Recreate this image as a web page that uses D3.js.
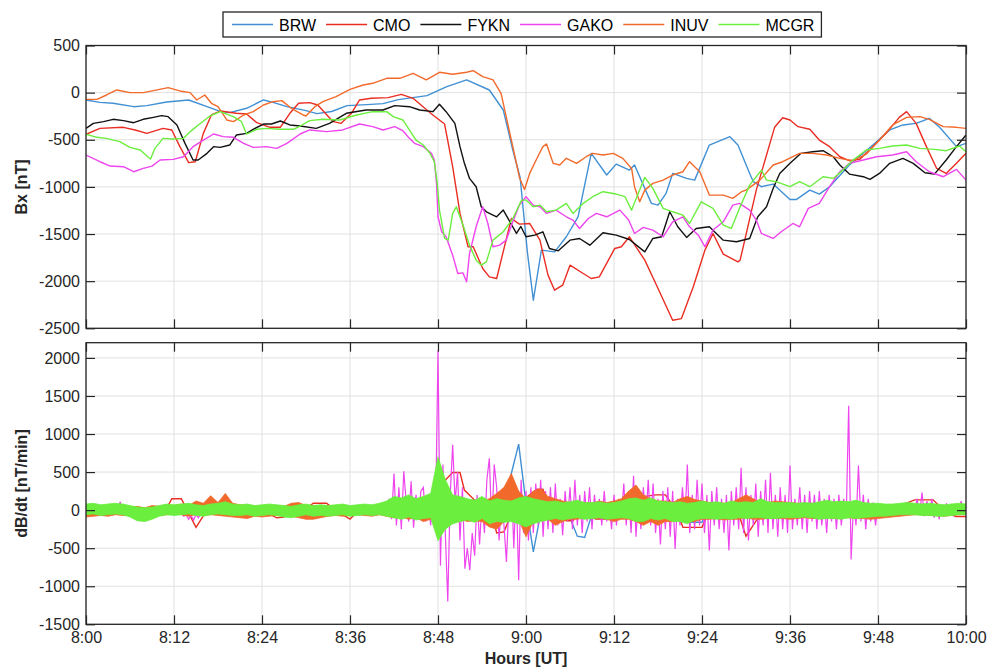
<!DOCTYPE html>
<html>
<head>
<meta charset="utf-8">
<script src="https://cdn.jsdelivr.net/npm/d3@7"></script>
<style>
body { margin: 0; background: #fff; }
text { font-family: "Liberation Sans", Arial, Helvetica, sans-serif; }
</style>
</head>
<body>
<svg id="chart" width="994" height="669"></svg>
<script>
// stations and colours, in plotting order
const stations = ['BRW', 'CMO', 'FYKN', 'GAKO', 'INUV', 'MCGR']
const colors = ['#4190d4', '#ea2d22', '#111111', '#ee45ee', '#f26a2b', '#6bee3e']

const timeTicks = [0, 12, 24, 36, 48, 60, 72, 84, 96, 108, 120]
const timeLabels = ['8:00', '8:12', '8:24', '8:36', '8:48', '9:00', '9:12', '9:24', '9:36', '9:48', '10:00']
const bxTicks = [-2500, -2000, -1500, -1000, -500, 0, 500]
const dbTicks = [-1500, -1000, -500, 0, 500, 1000, 1500, 2000]

// Bx [nT], [minutes after 8:00, value]
const bxBRW = [[0,-78],[1.9,-103],[3.7,-113],[6.5,-149],[8.3,-138],[11,-99],[14,-78],[16.5,-149],[18.3,-198],[19.6,-212],[21.9,-166],[24.2,-78],[25.5,-103],[27.4,-149],[30,-191],[31.5,-223],[33.5,-200],[35.6,-138],[38.3,-127],[40.5,-117],[42.6,-74],[46.5,-32],[49.2,64],[51.9,135],[55,28],[56.9,-184],[58.2,-609],[59.2,-900],[60.2,-1700],[61,-2202],[62.1,-1671],[63.9,-1689],[65.5,-1529],[67.1,-1317],[68.9,-644],[71,-874],[72.3,-758],[74.1,-822],[74.8,-768],[77.1,-1175],[78,-1193],[79.1,-1069],[80,-857],[81.9,-910],[83,-928],[85,-556],[87.8,-467],[88.9,-556],[90.5,-857],[91,-945],[92.1,-998],[93.7,-970],[96,-1133],[96.9,-1133],[98.7,-1034],[100,-1076],[101.4,-998],[104.1,-768],[107.3,-556],[109.6,-396],[111.4,-343],[113.2,-326],[115,-273],[116.4,-368],[118.7,-573],[120,-538]]
const bxCMO = [[0,-442],[1.9,-379],[5.1,-368],[6.7,-396],[8.3,-432],[10.5,-379],[11.7,-396],[12.8,-573],[14,-743],[14.9,-733],[16,-432],[17.1,-237],[18.3,-195],[20.5,-219],[21.9,-227],[23.3,-319],[25.1,-368],[26.5,-368],[27.8,-219],[29,-113],[30.5,-106],[31.6,-131],[33.7,-308],[34.8,-326],[36.2,-219],[37.3,-78],[38.9,-60],[41.2,-53],[43,-18],[44.6,-60],[46.2,-166],[47.3,-237],[48.9,-333],[50,-786],[51,-1281],[52.1,-1635],[52.8,-1635],[54.1,-1866],[55,-1954],[56,-1972],[58,-1335],[59.1,-1395],[60.5,-1388],[61.9,-1565],[63,-1936],[63.9,-2096],[65,-2043],[66,-1830],[67.8,-1919],[68.9,-1972],[70,-1954],[72.1,-1653],[73,-1635],[74.1,-1529],[76.2,-1777],[77.8,-2043],[80,-2414],[81.2,-2397],[82.8,-2061],[84.4,-1671],[85.5,-1494],[86.9,-1713],[88.9,-1795],[89.2,-1777],[91.4,-1034],[93.9,-368],[95,-266],[96,-290],[97.1,-361],[98.7,-389],[100,-503],[101.4,-573],[102.8,-680],[104.1,-722],[105.5,-708],[107.3,-573],[109.1,-432],[110.9,-262],[111.9,-202],[113.2,-326],[114.6,-573],[116,-804],[117.3,-857],[118.7,-750],[120,-644]]
const bxFYKN = [[0,-379],[1,-326],[2.4,-308],[3.7,-283],[5.1,-297],[6.5,-319],[7.8,-283],[9.2,-262],[10.3,-244],[11.2,-255],[12.4,-343],[13.5,-538],[14.6,-715],[15.3,-715],[16.5,-644],[17.4,-573],[18.3,-581],[19.6,-556],[20.5,-450],[21.9,-432],[22.8,-389],[24.2,-333],[25.3,-333],[26.5,-301],[27.8,-343],[29.2,-354],[31.4,-379],[33.2,-326],[35.5,-219],[38.2,-184],[40.5,-184],[42.1,-138],[44.1,-149],[45.5,-184],[47.3,-202],[48.2,-124],[49.1,-202],[50.3,-326],[51,-573],[51.6,-750],[52.3,-910],[53.2,-998],[53.9,-1211],[54.6,-1264],[56,-1317],[56.9,-1246],[57.8,-1370],[58.7,-1494],[59.3,-1420],[60,-1529],[61.2,-1512],[62.3,-1476],[63.2,-1653],[64.4,-1678],[66,-1565],[67.3,-1547],[68.7,-1618],[70.5,-1487],[72.3,-1512],[74.1,-1558],[76.2,-1689],[77.3,-1547],[78.5,-1529],[79.6,-1264],[80.7,-1423],[81.9,-1536],[83.2,-1441],[85,-1423],[86.9,-1565],[88.7,-1582],[90.5,-1547],[91.6,-1317],[92.8,-1211],[93.7,-1016],[94.6,-857],[96,-750],[97.5,-644],[99.1,-627],[100.5,-616],[101.9,-680],[102.8,-768],[104.1,-864],[106,-892],[106.9,-920],[108.2,-857],[109.6,-750],[111.4,-697],[112.8,-750],[114.4,-850],[115.7,-864],[117.3,-715],[118.7,-573],[120,-450]]
const bxGAKO = [[0,-662],[1.9,-733],[3.3,-779],[5.1,-786],[6.5,-839],[7.8,-804],[9,-779],[10.1,-715],[11.9,-708],[13.3,-680],[14.6,-573],[16,-503],[17.4,-439],[18.7,-467],[20.1,-474],[21.5,-538],[22.8,-581],[24.6,-573],[26,-591],[27.4,-538],[29.2,-439],[30.5,-396],[32.8,-414],[35,-396],[37.3,-333],[39.1,-361],[40.5,-396],[42.1,-361],[43.2,-404],[44.1,-485],[44.8,-538],[46,-573],[47.1,-644],[47.5,-715],[47.8,-963],[48,-1317],[48.5,-1476],[49.1,-1529],[50,-1724],[50.7,-1919],[51.4,-1912],[51.9,-2007],[52.3,-1706],[53.2,-1423],[54.1,-1211],[54.8,-1388],[55.5,-1635],[56.4,-1618],[57.3,-1565],[58.2,-1370],[59.1,-1193],[60,-1104],[61,-1193],[61.9,-1211],[62.8,-1281],[64.1,-1246],[65.5,-1317],[66.4,-1352],[67.3,-1441],[68.5,-1335],[69.6,-1281],[71,-1317],[72.8,-1246],[74,-1352],[74.8,-1494],[76,-1430],[77.3,-1458],[78.7,-1529],[80,-1370],[81.4,-1317],[82.3,-1423],[83.5,-1512],[84.4,-1635],[85.5,-1458],[86.9,-1370],[88.2,-1193],[89.1,-1175],[90.5,-1246],[91.4,-1352],[92.1,-1494],[93.7,-1547],[94.8,-1476],[96.4,-1388],[97.3,-1423],[98.5,-1228],[100,-1175],[101.4,-998],[102.8,-839],[104.1,-750],[106,-715],[107.8,-680],[110,-662],[111.9,-627],[113.2,-733],[115,-839],[116.9,-892],[118.7,-814],[120,-927]]
const bxINUV = [[0,-71],[1.5,-71],[2.8,-25],[4.2,28],[6,0],[7.8,0],[9.2,21],[11.2,53],[12.8,18],[14.2,0],[15.1,-78],[16.2,-25],[17.1,-113],[18,-149],[19.2,-290],[20.1,-308],[21.5,-237],[22.8,-202],[24.2,-131],[25.5,-96],[26.7,-85],[28,-166],[29.6,-237],[30,-248],[31.2,-149],[32.3,-96],[34.1,-42],[36,35],[37.8,81],[39.1,99],[41,152],[42.8,152],[44.6,205],[46.4,135],[48.2,216],[50,195],[51.9,216],[52.8,234],[54.1,170],[55.5,135],[56.6,-7],[57.5,-326],[58.5,-680],[59.1,-900],[59.8,-1027],[60.5,-857],[61.6,-680],[62.3,-573],[62.8,-545],[63.7,-750],[64.6,-768],[65.5,-697],[66.9,-750],[68.2,-680],[69.1,-644],[70.5,-662],[71.9,-644],[73.2,-697],[74.4,-804],[74.8,-998],[75.5,-1158],[76.2,-1034],[77.3,-963],[78.7,-928],[80,-874],[81.4,-839],[82.3,-733],[83.7,-839],[85,-1087],[86.9,-1087],[88.2,-1122],[89.4,-1051],[90,-1034],[91.9,-928],[93.7,-768],[95,-733],[97.3,-644],[99.1,-644],[101,-662],[102.8,-697],[104.6,-722],[106.4,-651],[108.2,-503],[110,-343],[111.9,-262],[113.7,-255],[115,-283],[116.9,-361],[118.7,-368],[120,-379]]
const bxMCGR = [[0,-442],[1.5,-474],[2.8,-485],[4.6,-520],[6,-581],[7.4,-609],[8.3,-673],[8.8,-704],[9.4,-591],[10.5,-485],[11.9,-492],[13.3,-485],[14.2,-414],[15.5,-333],[16.9,-248],[18.3,-202],[20.1,-255],[21.2,-308],[21.9,-439],[23.3,-389],[24.6,-379],[26.5,-389],[28.3,-389],[29.2,-354],[30.5,-297],[32.3,-283],[34.6,-290],[36.9,-237],[39.1,-202],[41,-202],[41.9,-255],[43.2,-290],[44.1,-396],[45,-503],[46,-556],[46.9,-644],[47.5,-733],[47.9,-963],[48.2,-1246],[48.9,-1547],[49.4,-1565],[50,-1281],[50.5,-1211],[51.4,-1405],[52.3,-1618],[53.2,-1777],[53.9,-1830],[54.6,-1795],[55.5,-1565],[56.9,-1476],[58.2,-1335],[59.4,-1140],[60,-1140],[61,-1211],[61.9,-1193],[62.8,-1264],[64.1,-1246],[65.5,-1175],[66.4,-1281],[67.8,-1175],[69.1,-1104],[70.5,-1051],[72.3,-1076],[73.5,-1104],[74.4,-1246],[75.3,-1069],[76.2,-899],[77.3,-1016],[78.7,-1228],[80,-1264],[81.4,-1299],[82.3,-1388],[83.9,-1158],[85.5,-1228],[86.9,-1405],[88,-1441],[89.1,-1228],[90.5,-981],[92.1,-822],[92.8,-928],[94.1,-945],[96,-998],[97.3,-945],[98.7,-998],[100.5,-892],[101.9,-910],[103.2,-822],[104.6,-715],[106.4,-609],[108.2,-591],[110,-566],[111.9,-556],[113.7,-591],[115.7,-602],[117.3,-616],[119.1,-566],[120,-627]]

// dB/dt [nT/min], one-minute stations: [minutes, value]
const dbBRW = [[0,10],[5,-10],[10,15],[15,-20],[20,10],[25,-15],[30,10],[35,5],[40,15],[45,20],[50,30],[52,10],[54,-80],[56,-200],[57,100],[58,482],[59,868],[60,88],[61,-548],[62,-44],[63,150],[64,80],[65,100],[66,-100],[67,-343],[68,-360],[69,-50],[70,100],[72,-50],[74,80],[75,150],[75.7,230],[76.5,80],[78,-52],[80,-100],[82,-160],[84,-160],[85,30],[87,-20],[89,80],[91,-60],[93,-80],[95,20],[97,-40],[100,30],[105,40],[110,30],[115,20],[120,-30]]
const dbCMO = [[0,0],[3,10],[6,-10],[9,5],[11,20],[11.7,150],[13,150],[15,-226],[16.5,0],[19,10],[22,-10],[24,0],[26,-100],[27,-90],[28,0],[30,20],[31,90],[32.8,90],[34,0],[36,-117],[37,-20],[40,10],[44,0],[46,20],[48,-30],[49,395],[50,495],[51,495],[51.6,263],[53,131],[54.5,90],[55.5,-100],[56,-300],[57,-285],[58,-50],[59,80],[60.5,200],[61.5,274],[62.3,274],[63,100],[64.5,-52],[65.5,-139],[66.4,-139],[67.5,0],[69.5,-117],[70.9,-117],[72,10],[75,165],[77.7,200],[79,200],[80.5,0],[81.4,-226],[84,-226],[85,0],[87,60],[89,-50],[90,-343],[91.4,-139],[93,0],[96,50],[100,20],[105,10],[110,20],[113,135],[115.5,135],[117,0],[118.6,-83],[120,-83]]
const dbFYKN = [[0,0],[10,10],[12,-20],[14,-40],[16,20],[20,10],[30,-10],[40,10],[45,-20],[48,-50],[50,-80],[52,-100],[54,-30],[56,-20],[58,-30],[60,0],[62,-20],[70,10],[80,-10],[90,60],[92,80],[94,40],[96,20],[100,-20],[105,0],[110,-10],[115,10],[118,40],[120,50]]

// GAKO dB/dt, every 20 s (three values per minute), 8:00 to 10:00
const dbGAKO = [
30,-40,20, -30,40,-20, 50,-30,20, -40,30,-50, 60,-20,110, -30,40,-60, 20,-50,30, -60,10,-80, -40,-90,-20, -70,10,-50,
30,-40,20, -30,50,-20, 40,-50,30, -40,-80,-60, -120,-70,-130, -60,-100,-30, 20,-40,30, -20,40,-30, 50,-20,30, -40,20,-50,
30,-30,40, -40,20,-30, 40,-30,20, -20,30,-40, 20,-30,40, -30,20,-40, 30,-50,-70, -40,20,-60, 30,-40,20, -30,40,-20,
20,-40,30, -30,20,-50, 40,-20,30, -40,30,-20, 30,-30,40, -20,30,-40, 40,-30,20, -30,40,-20, 30,-40,50, -20,40,-30,
50,-30,60, -80,150,-120, 480,-200,300, -250,510,100, -150,380,-230, 200,-100,250, 300,-150,150, -200,250,-100,
2100,-730,600, -300,-1200,200, 860,100,500, -400,300,-770, -500,-790,-300, -600,200,-450, 100,-300,400, 680,-200,600,
300,-400,200, -200,-680,100, 450,-500,300, -921,400,-300,
250,-400,300, -300,350,-200, 400,-350,250, -250,300,-300, 350,-200,150, -330,250,-150, 300,-250,400, -200,200,-300,
250,-150,300, -250,200,-100, 150,-200,250, -150,100,-250, 200,-200,150, -100,350,-200, 250,-300,450, -350,200,-250,
300,-150,400, -200,350,-300, 150,-450,250, -250,300,-350, 250,-510,150, -200,300,-150, 600,-300,200, -250,400,-200,
350,-300,200, -530,250,-200, 300,-250,150, -300,200,-530, 250,-200,300, -250,557,-300, 300,-400,200, -200,350,-350,
250,-200,400, -300,491,-250, 200,-350,300, -250,200,-300, 587,-250,150, -200,300,-250, 200,-300,250, -150,200,-250,
250,-200,150, -300,200,-150, 150,-250,200, -200,150,-100, 1370,-648,100, -200,587,-150, 200,-250,150, -150,100,-200,
80,-60,50, -50,40,-60, 60,-40,50, -50,70,-30, 80,-40,60, -30,150,-60, 230,-80,120, -60,150,-100, 80,-120,60, -80,90,-50,
60,-70,40, -40,120,-30, 80
]

// INUV and MCGR dB/dt noise envelopes, one value per minute 8:00..10:00
const dbINUVhi = [50,40,50,40,50,40,40,50,30,60,50, 40,60,80,60,120,90,190,100,220,90, 70,60,50,40,60,50,50,90,100,60, 60,50,60,50,60,50,40,60,50,60, 80,100,120,80,100,120,150, 180,150,120,100,120,100,120,150,220,300,480,250, 150,250,280,180,150,120,100,90,100,90, 120,100,120,150,250,330,200,150,120,120, 100,150,180,140,120,100,100,90,100,150, 200,150,90,100,120,110,100,90,80,90, 80,90,70,80,70,60,50,40,30,30, 40,50,60,70,80,60,50,40,50,40,50]
const dbINUVlo = [-90,-80,-70,-80,-60,-70,-70,-60,-80,-60,-70, -60,-50,-60,-80,-60,-70,-60,-70,-80,-90, -100,-110,-80,-90,-80,-70,-60,-80,-100,-120, -120,-100,-80,-70,-80,-70,-60,-70,-80,-60, -80,-100,-90,-120,-100,-150,-120, -150,-120,-140,-120,-150,-140,-150,-220,-250,-150,-80,-120, -350,-150,-120,-120,-200,-150,-120,-120,-100,-110, -100,-120,-150,-120,-120,-150,-200,-150,-200,-150, -150,-120,-150,-150,-120,-120,-110,-130,-120,-120, -100,-120,-120,-110,-110,-110,-120,-110,-100,-110, -110,-100,-110,-100,-100,-110,-110,-120,-110,-100, -90,-80,-70,-60,-60,-70,-70,-80,-70,-60,-50]
const dbMCGRhi = [80,90,70,80,90,80,60,40,30,40,60, 80,70,80,90,70,60,80,90,110,80, 70,80,60,70,80,70,60,50,70,80, 60,70,60,70,80,60,70,80,70,90, 120,180,160,200,150,180,220, 700,400,200,180,150,130,180,120,150,130,120,160, 180,150,130,110,120,100,110,130,100,100, 110,90,100,120,150,160,130,160,120,110, 100,110,90,100,120,100,110,90,120,100, 110,100,150,110,100,100,100,90,100,90, 110,130,110,120,110,130,100,90,90,80, 80,90,100,90,80,90,80,70,80,90,80]
const dbMCGRlo = [-60,-50,-70,-60,-50,-60,-90,-140,-150,-120,-80, -60,-70,-60,-50,-70,-80,-60,-50,-60,-70, -70,-60,-80,-70,-60,-70,-90,-100,-80,-60, -80,-70,-80,-70,-60,-80,-70,-60,-70,-60, -80,-100,-120,-90,-130,-110,-100, -400,-250,-180,-150,-130,-160,-110,-180,-150,-160,-150,-180, -220,-180,-150,-130,-110,-130,-110,-100,-120,-110, -100,-120,-110,-100,-110,-150,-150,-110,-130,-110, -150,-150,-180,-130,-110,-110,-120,-110,-120,-100, -110,-100,-100,-110,-110,-100,-100,-100,-90,-100, -120,-110,-110,-120,-100,-110,-100,-90,-80,-80, -70,-60,-60,-60,-70,-70,-80,-80,-70,-60,-60]


const svg = d3.select('#chart')
const axisColor = '#262626'
const left = 86, right = 966

let x = d3.scaleLinear().domain([0, 120]).range([left, right])
let yTop = d3.scaleLinear().domain([-2500, 500]).range([328.3, 45.5])
let yBot = d3.scaleLinear().domain([-1500, 2200]).range([624.3, 342.7])

const drawFrame = (y, ticks, id) => {
	let g = svg.append('g')
	let [y0, y1] = y.range()

	svg.append('clipPath').attr('id', id)
	.append('rect')
	.attr('x', left).attr('y', y1)
	.attr('width', right - left).attr('height', y0 - y1)

	// grid
	g.selectAll('.vgrid').data(timeTicks).enter().append('line')
	.attr('x1', d => x(d)).attr('x2', d => x(d))
	.attr('y1', y1).attr('y2', y0)
	.attr('stroke', '#e1e1e1').attr('stroke-width', 1)

	g.selectAll('.hgrid').data(ticks).enter().append('line')
	.attr('x1', left).attr('x2', right)
	.attr('y1', d => y(d)).attr('y2', d => y(d))
	.attr('stroke', '#e1e1e1').attr('stroke-width', 1)

	return g
}

const drawAxes = (y, ticks, showX) => {
	let [y0, y1] = y.range()
	let g = svg.append('g').attr('color', axisColor)

	g.append('g').attr('transform', `translate(${left},0)`)
	.call(d3.axisLeft(y).tickValues(ticks).tickSizeInner(-9).tickSizeOuter(0).tickPadding(6).tickFormat(d => String(d)))
	g.append('g').attr('transform', `translate(${right},0)`)
	.call(d3.axisRight(y).tickValues(ticks).tickSizeInner(-9).tickSizeOuter(0).tickFormat(''))
	g.append('g').attr('transform', `translate(0,${y0})`)
	.call(d3.axisBottom(x).tickValues(timeTicks).tickSizeInner(-9).tickSizeOuter(0).tickPadding(7)
		.tickFormat((d, i) => showX ? timeLabels[i] : ''))
	g.append('g').attr('transform', `translate(0,${y1})`)
	.call(d3.axisTop(x).tickValues(timeTicks).tickSizeInner(-9).tickSizeOuter(0).tickFormat(''))

	g.selectAll('.domain').remove()
	g.selectAll('.tick line').attr('stroke-width', 1.2)
	g.selectAll('.tick text')
	.style('font-size', '16px')
	.attr('fill', axisColor)

	g.append('rect')
	.attr('x', left).attr('y', y1)
	.attr('width', right - left).attr('height', y0 - y1)
	.attr('fill', 'none').attr('stroke', axisColor).attr('stroke-width', 1.3)
}

// ---------- top panel: Bx ----------
drawFrame(yTop, bxTicks, 'clipTop')

const bxLine = d3.line()
.x(d => x(d[0]))
.y(d => yTop(d[1]))

let topLines = svg.append('g').attr('clip-path', 'url(#clipTop)')
let bxSeries = [bxBRW, bxCMO, bxFYKN, bxGAKO, bxINUV, bxMCGR]

bxSeries.forEach((s, i) => {
	topLines.append('path')
	.datum(s)
	.attr('d', bxLine)
	.attr('fill', 'none')
	.attr('stroke', colors[i])
	.attr('stroke-width', 1.4)
	.attr('stroke-linejoin', 'round')
})

drawAxes(yTop, bxTicks, false)

// ---------- bottom panel: dB/dt ----------
drawFrame(yBot, dbTicks, 'clipBot')

let botLines = svg.append('g').attr('clip-path', 'url(#clipBot)')

const dbLine = d3.line()
.x(d => x(d[0]))
.y(d => yBot(d[1]))

botLines.append('path').datum(dbBRW).attr('d', dbLine)
.attr('fill', 'none').attr('stroke', colors[0]).attr('stroke-width', 1.4)

botLines.append('path').datum(dbCMO).attr('d', dbLine)
.attr('fill', 'none').attr('stroke', colors[1]).attr('stroke-width', 1.4)

botLines.append('path').datum(dbFYKN).attr('d', dbLine)
.attr('fill', 'none').attr('stroke', colors[2]).attr('stroke-width', 1.2)

botLines.append('path').datum(dbGAKO)
.attr('d', d3.line().x((d, i) => x(i / 3)).y(d => yBot(d)))
.attr('fill', 'none').attr('stroke', colors[3]).attr('stroke-width', 1.2)

const band = (hi, lo) => d3.area()
.x((d, i) => x(i))
.y0((d, i) => yBot(lo[i]))
.y1((d, i) => yBot(hi[i]))(hi)

botLines.append('path').attr('d', band(dbINUVhi, dbINUVlo))
.attr('fill', colors[4]).attr('stroke', colors[4]).attr('stroke-width', 0.8)

botLines.append('path').attr('d', band(dbMCGRhi, dbMCGRlo))
.attr('fill', colors[5]).attr('stroke', colors[5]).attr('stroke-width', 0.8)

drawAxes(yBot, dbTicks, true)

// axis titles
svg.append('text')
.attr('transform', `translate(27,${(45.5 + 328.3) / 2}) rotate(-90)`)
.attr('text-anchor', 'middle')
.style('font-size', '16px').style('font-weight', 'bold')
.attr('fill', axisColor)
.text('Bx [nT]')

svg.append('text')
.attr('transform', `translate(27,${(342.7 + 624.3) / 2}) rotate(-90)`)
.attr('text-anchor', 'middle')
.style('font-size', '16px').style('font-weight', 'bold')
.attr('fill', axisColor)
.text('dB/dt [nT/min]')

svg.append('text')
.attr('x', (left + right) / 2).attr('y', 664)
.attr('text-anchor', 'middle')
.style('font-size', '16px').style('font-weight', 'bold')
.attr('fill', axisColor)
.text('Hours [UT]')

// legend
let legend = svg.append('g')
let box = legend.append('rect')
.attr('x', 223).attr('y', 12).attr('height', 25)
.attr('fill', '#fff').attr('stroke', axisColor).attr('stroke-width', 1.3)

let lx = 232
stations.forEach((s, i) => {
	legend.append('line')
	.attr('x1', lx).attr('x2', lx + 41)
	.attr('y1', 24.5).attr('y2', 24.5)
	.attr('stroke', colors[i]).attr('stroke-width', 1.5)
	let t = legend.append('text')
	.attr('x', lx + 47).attr('y', 30.5)
	.style('font-size', '16px')
	.attr('fill', '#000')
	.text(s)
	lx += 47 + t.node().getComputedTextLength() + 10
})
box.attr('width', lx - 3 - 223)
</script>
</body>
</html>
